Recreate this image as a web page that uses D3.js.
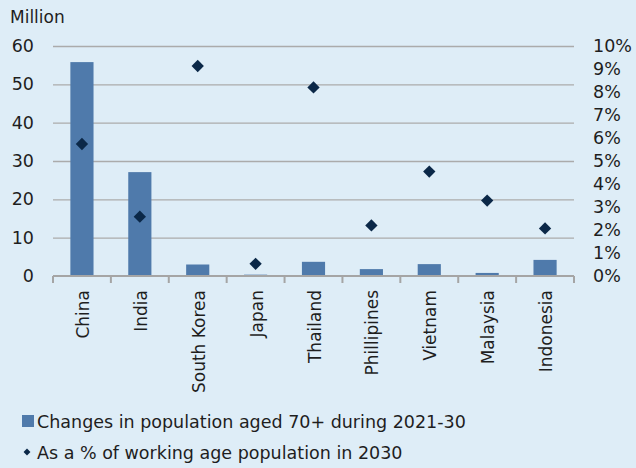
<!DOCTYPE html>
<html>
<head>
<meta charset="utf-8">
<script src="https://cdn.jsdelivr.net/npm/d3@7"></script>
<style>
  html, body { margin: 0; padding: 0; background: #deedf7; }
  svg { display: block; }
</style>
</head>
<body>
<div id="chart"></div>
<script>
// categories and series
var countries = ["China", "India", "South Korea", "Japan", "Thailand", "Phillipines", "Vietnam", "Malaysia", "Indonesia"];
var popChange = [55.8, 27.1, 3.0, 0.35, 3.7, 1.8, 3.1, 0.8, 4.2];          // million
var shareWorking = [5.74, 2.58, 9.13, 0.53, 8.2, 2.2, 4.54, 3.28, 2.07];   // %
var leftTicks = [0, 10, 20, 30, 40, 50, 60];
var rightTicks = [0, 1, 2, 3, 4, 5, 6, 7, 8, 9, 10];
var legendLabels = ["Changes in population aged 70+ during 2021-30", "As a % of working age population in 2030"];

var fontFamily = "DejaVu Sans, Liberation Sans, sans-serif";
var textColor = "#1e1e1e";

var outerWidth = 636, outerHeight = 468;
var margin = {top: 46, right: 62, bottom: 192, left: 53};
var innerWidth = outerWidth - margin.left - margin.right;
var innerHeight = outerHeight - margin.top - margin.bottom;

var svg = d3.select("#chart").append("svg")
  .attr("width", outerWidth)
  .attr("height", outerHeight)
  .attr("font-family", fontFamily);

svg.append("rect").attr("width", outerWidth).attr("height", outerHeight).attr("fill", "#deedf7");

var g = svg.append("g").attr("transform", "translate(" + margin.left + "," + margin.top + ")");

//scales
var xScale = d3.scaleBand().domain(countries).range([0, innerWidth]).paddingInner(0.6).paddingOuter(0.3);
var yLeft = d3.scaleLinear().domain([0, 60]).range([innerHeight, 0]);
var yRight = d3.scaleLinear().domain([0, 10]).range([innerHeight, 0]);

//tidy up what d3.axis puts on the group
function styleAxis(s, size) {
  s.attr("font-size", null).attr("font-family", null).attr("fill", null);
  s.select(".domain").remove();
  s.selectAll("text")
    .attr("font-size", size)
    .attr("font-family", fontFamily)
    .attr("fill", textColor);
}

//gridlines + left axis
var yAxisL = d3.axisLeft(yLeft).tickValues(leftTicks).tickSize(-innerWidth).tickPadding(19);
g.append("g").attr("class", "y axis")
  .call(yAxisL)
  .call(function(s){
    styleAxis(s, 17.5);
    s.selectAll("line").attr("stroke", "#ababab").attr("stroke-width", 1.3)
      .filter(function(d){ return d === 0; }).remove();
  });

//right axis
var yAxisR = d3.axisRight(yRight).tickValues(rightTicks).tickSize(0).tickPadding(19)
  .tickFormat(function(d){ return d + "%"; });
g.append("g").attr("class", "y2 axis")
  .attr("transform", "translate(" + innerWidth + ",0)")
  .call(yAxisR)
  .call(function(s){ styleAxis(s, 17.5); });

//bars
g.selectAll(".bar")
  .data(popChange)
  .enter()
  .append("rect")
  .attr("class", "bar")
  .attr("x", function(d, i){ return xScale(countries[i]); })
  .attr("width", xScale.bandwidth())
  .attr("y", function(d){ return yLeft(d); })
  .attr("height", function(d){ return innerHeight - yLeft(d); })
  .attr("fill", "#4f7aab");

//x axis with boundary ticks
var boundaries = d3.range(countries.length + 1);
var xAxis = g.append("g").attr("transform", "translate(0," + innerHeight + ")");
xAxis.append("line").attr("x1", 0).attr("x2", innerWidth).attr("stroke", "#a5a5a5").attr("stroke-width", 2);
xAxis.selectAll(".tick").data(boundaries).enter().append("line")
  .attr("x1", function(d){ return d * innerWidth / countries.length; })
  .attr("x2", function(d){ return d * innerWidth / countries.length; })
  .attr("y1", 0).attr("y2", 7)
  .attr("stroke", "#a5a5a5").attr("stroke-width", 2);
xAxis.selectAll(".label").data(countries).enter().append("text")
  .attr("transform", function(d){ return "translate(" + (xScale(d) + xScale.bandwidth() / 2 + 7) + ",14) rotate(-90)"; })
  .attr("text-anchor", "end")
  .attr("font-size", 17)
  .attr("fill", textColor)
  .text(function(d){ return d; });

//diamonds
var diamond = d3.symbol().type(d3.symbolSquare).size(76);
g.selectAll(".point")
  .data(shareWorking)
  .enter()
  .append("path")
  .attr("class", "point")
  .attr("d", diamond)
  .attr("transform", function(d, i){
    return "translate(" + (xScale(countries[i]) + xScale.bandwidth() / 2) + "," + yRight(d) + ") rotate(45)";
  })
  .attr("fill", "#0b2848");

//title of left axis
svg.append("text").attr("x", 10).attr("y", 23).attr("font-size", 17).attr("fill", textColor).text("Million");

//legend
var legend = svg.append("g");
legend.append("rect").attr("x", 22).attr("y", 415).attr("width", 12).attr("height", 12).attr("fill", "#4f7aab");
legend.append("path").attr("d", d3.symbol().type(d3.symbolSquare).size(24))
  .attr("transform", "translate(27,452) rotate(45)").attr("fill", "#0b2848");
legend.selectAll(".lt").data(legendLabels).enter().append("text")
  .attr("x", 37)
  .attr("y", function(d, i){ return 428 + i * 31; })
  .attr("font-size", 17.5)
  .attr("fill", textColor)
  .text(function(d){ return d; });
</script>
</body>
</html>
